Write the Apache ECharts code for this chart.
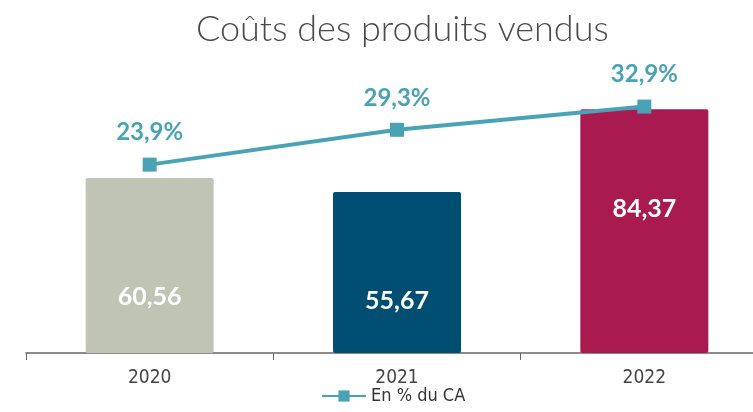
<!DOCTYPE html>
<html>
<head>
<meta charset="utf-8">
<script src="https://cdn.jsdelivr.net/npm/echarts@6/dist/echarts.min.js"></script>
<style>
  html, body { margin: 0; padding: 0; background: #fff; }
  #chart { width: 753px; height: 412px; }
</style>
</head>
<body>
<div id="chart"></div>
<script>
const years = ['2020', '2021', '2022']
const costs = [60.56, 55.67, 84.37]
const pctCA = [23.9, 29.3, 32.9]
const barColors = ['#c0c4b5', '#004f73', '#a81a50']
// label heights inside the bars, as placed in the original
const barLabelY = [119, 109, 100]

const fmt = (v) => String(v).replace('.', ',')
const condensed = '"Liberation Sans Narrow", "DejaVu Sans Condensed", sans-serif'

const chart = echarts.init(document.getElementById('chart'))

chart.setOption({
  animation: false,
  title: {
    text: 'Coûts des produits vendus',
    left: 191,
    top: 6,
    textStyle: {
      fontFamily: 'Lato',
      fontWeight: 300,
      fontSize: 36,
      color: '#4a4a4a',
    },
  },
  legend: {
    bottom: 2,
    left: 316,
    itemWidth: 44,
    itemHeight: 14,
    data: ['En % du CA'],
    textStyle: { fontFamily: condensed, fontSize: 18, color: '#333' },
  },
  grid: {
    left: 26,
    top: 64,
    width: 742,
    height: 289,
    containLabel: false,
    outerBoundsMode: 'none',
  },
  xAxis: {
    type: 'category',
    data: years,
    axisLine: { lineStyle: { color: '#666', width: 1.5 } },
    axisTick: { show: true, length: 7, lineStyle: { color: '#666' } },
    axisLabel: {
      margin: 16,
      fontFamily: condensed,
      fontSize: 19,
      color: '#444',
    },
  },
  yAxis: [
    { type: 'value', min: 0, max: 100, show: false },
    { type: 'value', min: -5.3, max: 39.5, show: false },
  ],
  series: [
    {
      name: 'Coûts',
      type: 'bar',
      barWidth: 128,
      data: costs.map((v, i) => ({
        value: v,
        itemStyle: { color: barColors[i], borderRadius: 2 },
        label: { position: ['50%', barLabelY[i]] },
      })),
      label: {
        show: true,
        align: 'center',
        verticalAlign: 'middle',
        formatter: (p) => fmt(p.value),
        color: '#fff',
        fontFamily: 'Lato',
        fontWeight: 'bold',
        fontSize: 25,
      },
    },
    {
      name: 'En % du CA',
      type: 'line',
      yAxisIndex: 1,
      data: pctCA,
      symbol: 'rect',
      symbolSize: 14,
      color: '#4aa3b5',
      lineStyle: { width: 4, color: '#4aa3b5' },
      itemStyle: { color: '#4aa3b5' },
      label: {
        show: true,
        position: 'top',
        distance: 13,
        formatter: (p) => fmt(p.value) + '%',
        color: '#4aa3b5',
        fontFamily: 'Lato',
        fontWeight: 'bold',
        fontSize: 24,
      },
    },
  ],
})
</script>
</body>
</html>
